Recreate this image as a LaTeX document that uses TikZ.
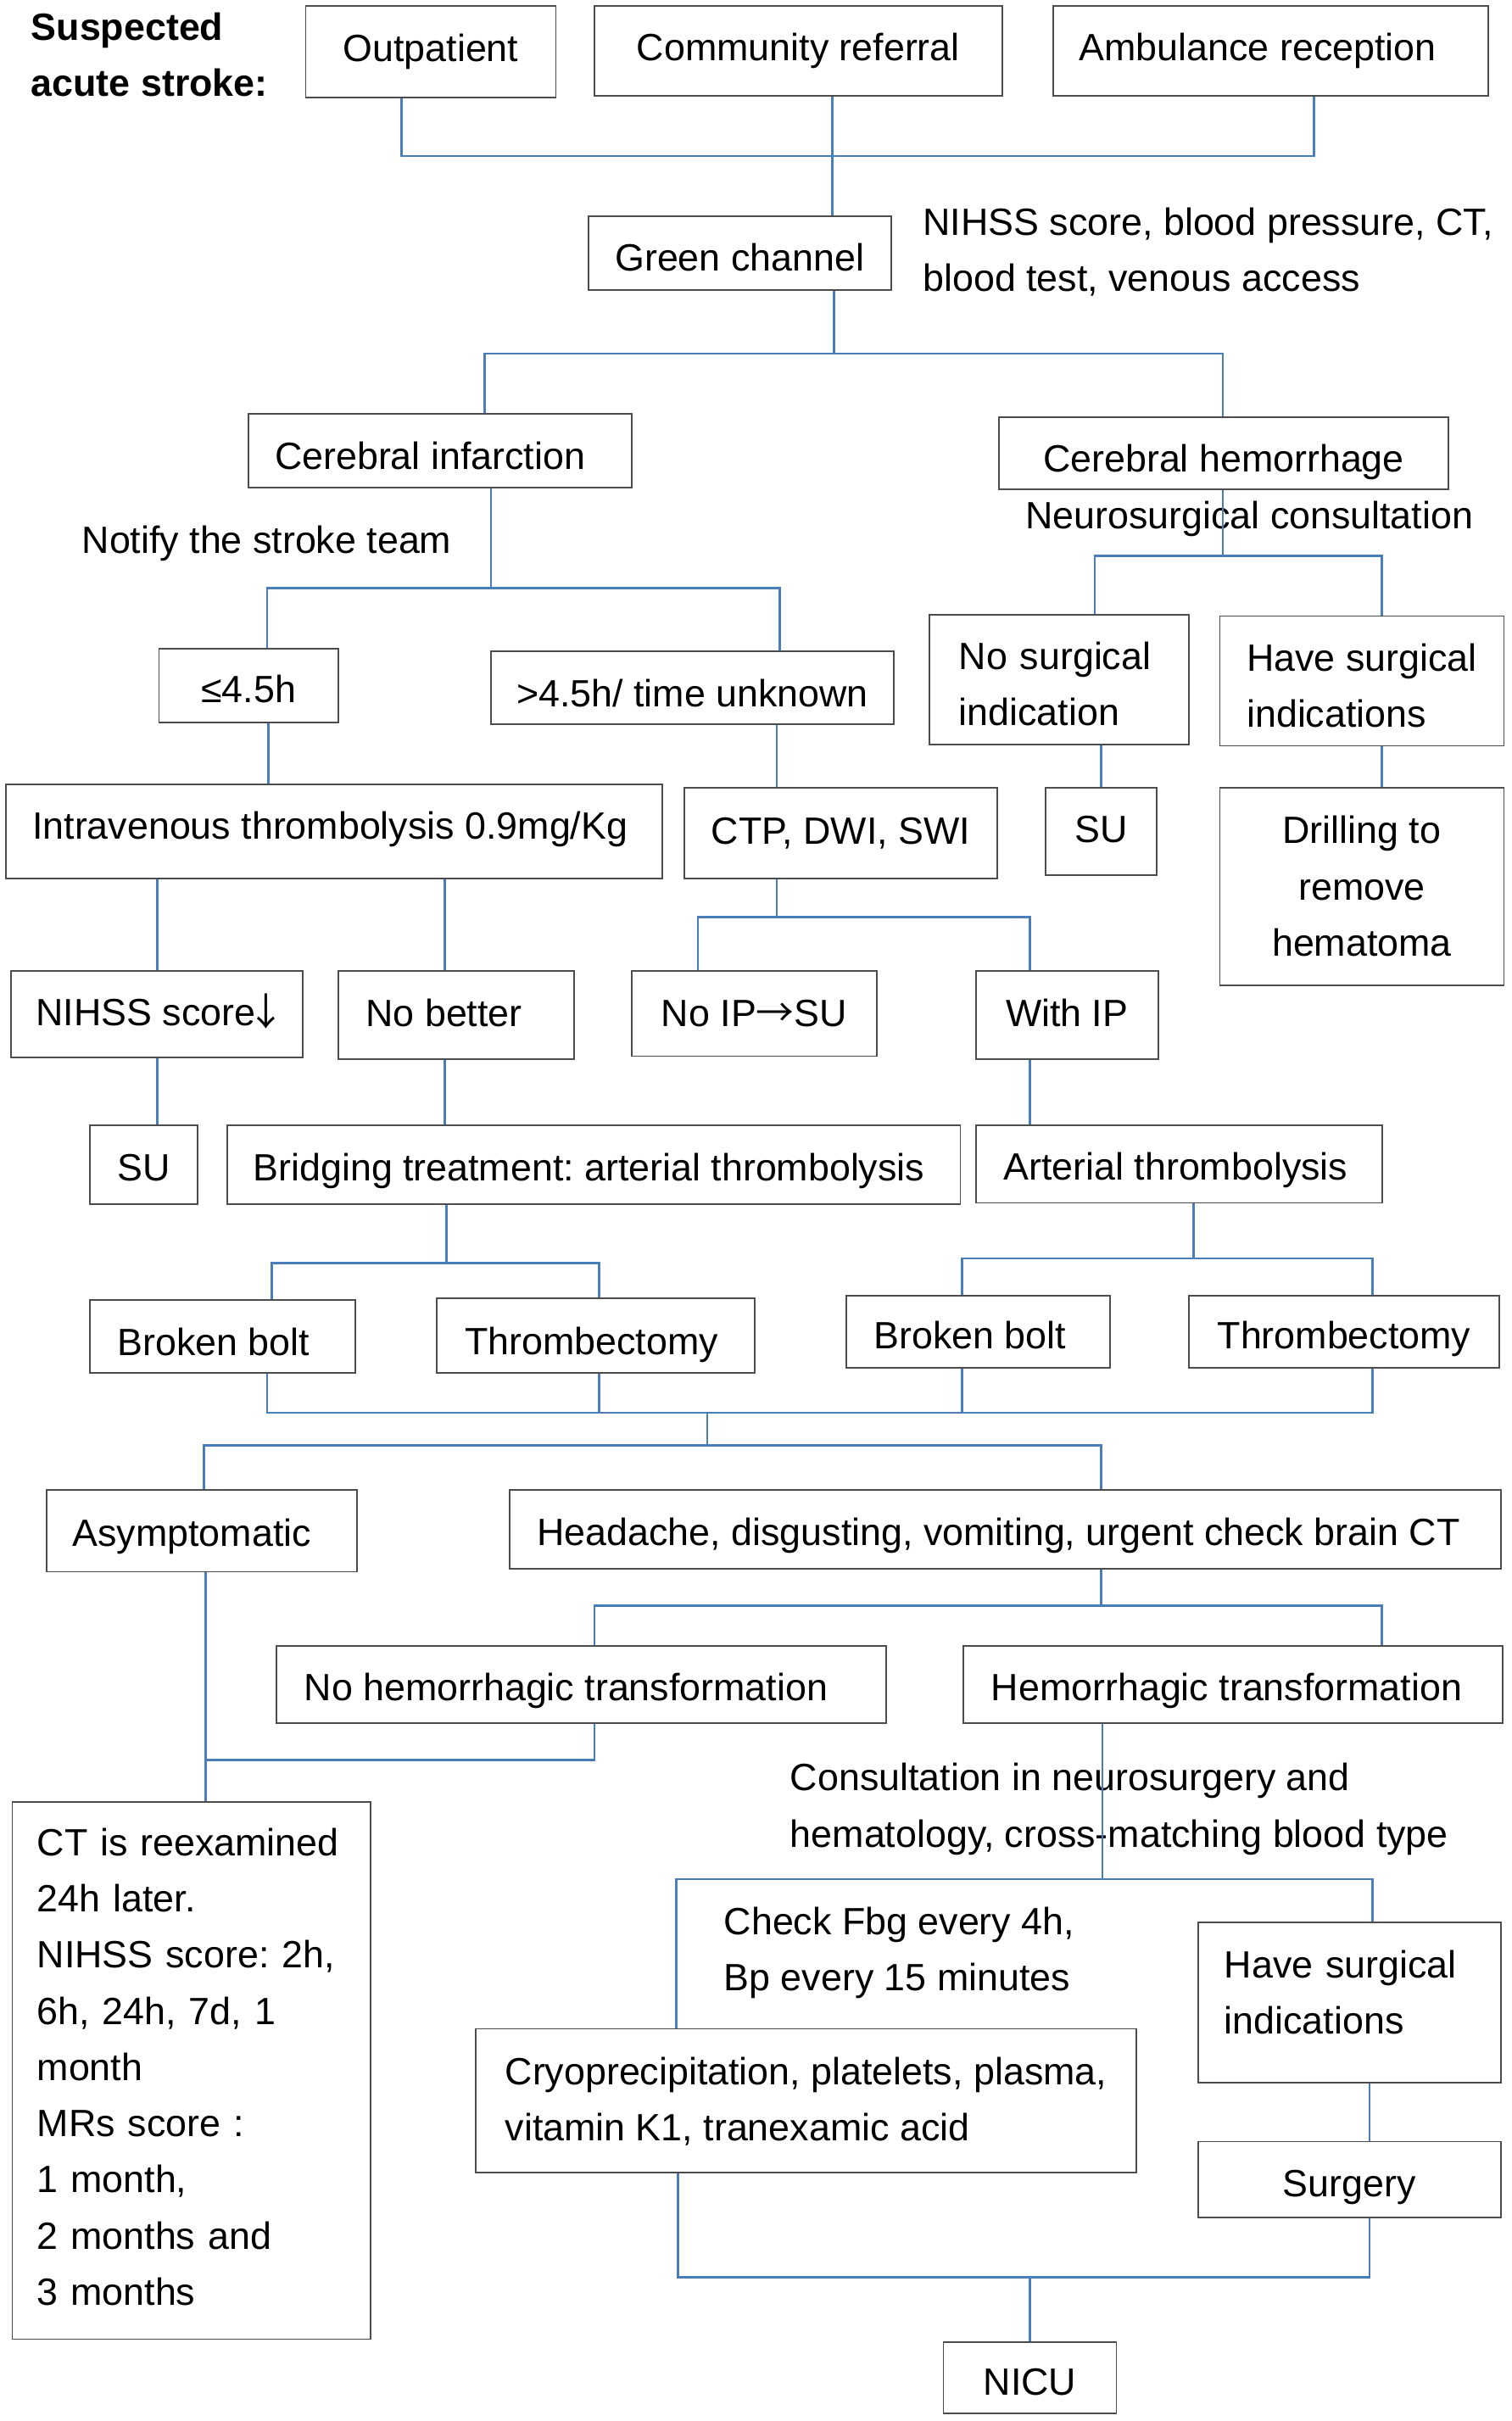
\documentclass[tikz,border=0pt]{standalone}
\usepackage{fontspec}
\setmainfont{Liberation Sans}
\newfontfamily\cjk{Noto Sans CJK SC}
\frenchspacing
\newcommand\fs{\fontsize{24.6pt}{36.4pt}\selectfont}
\newcommand\ph{\leavevmode\vphantom{Ay}}
\newcommand\lt[2]{\makebox[#1pt][l]{#2}}
\newcommand\ra{{\cjk →}}
\newcommand\da{\makebox[14pt]{\cjk ↓}}
\definecolor{lineblue}{HTML}{4A7EBB}
\begin{document}
\begin{tikzpicture}[x=1pt,y=-1pt,
  box/.style={draw=black!70, line width=1pt, inner sep=0pt, font=\fs,
    execute at begin node=\ph, execute at end node=\ph},
  sl/.style={text height=#1, text depth=5.2pt},
  lbl/.style={inner sep=0pt, font=\fs, align=left, anchor=north west,
    execute at begin node=\ph, execute at end node=\ph},
  conn/.style={draw=lineblue, line width=1.5pt, line join=miter}]
\fill[white] (0,0) rectangle (979,1568);
\useasboundingbox (0,0) rectangle (979,1568);

\newcommand\B[6][]{%
  \pgfmathsetmacro\bxw{#5-#3}\pgfmathsetmacro\bxh{#6-#4}%
  \pgfmathsetmacro\bxx{(#3+#5)/2}\pgfmathsetmacro\bxy{(#4+#6)/2}%
  \node[box,minimum width=\bxw pt,minimum height=\bxh pt,#1] (#2) at (\bxx,\bxy)}

% free labels
\node[lbl,font=\fs\bfseries] (title) at (20,8) {Suspected\\acute stroke:};
\node[lbl] (lnihss) at (597.6,134.3) {NIHSS score, blood pressure, CT,\\blood test, venous access};
\node[lbl] (lnotify) at (52.9,340.6) {Notify the stroke team};
\node[lbl] (lneuro) at (664,324.6) {Neurosurgical consultation};
\node[lbl] (lcons) at (511.6,1141.8) {Consultation in neurosurgery and\\hematology, cross-matching blood type};
\node[lbl] (lcheck) at (468.7,1234.8) {Check Fbg every 4h,\\Bp every 15 minutes};

% boxes
\B{outp}{198}{4}{360}{63}{Outpatient};
\B{comm}{385}{4}{649}{62}{Community referral};
\B{amb}{682}{4}{964}{62}{\lt{248}{Ambulance reception}};
\B[sl=27.6pt]{green}{381}{140}{577}{188}{Green channel};
\B[sl=29.6pt]{ci}{161}{268}{409}{316}{\lt{214}{Cerebral infarction}};
\B[sl=29.6pt]{ch}{647}{270}{938}{317}{Cerebral hemorrhage};
\B[sl=27.6pt]{le}{103}{420}{219}{468}{≤4.5h};
\B[sl=29.6pt]{gt}{318}{422}{579}{469}{>4.5h/ time unknown};
\B[align=left,text width=130pt]{nosurg}{602}{398}{770}{482}{\rule{0pt}{28.6pt}No surgical\\indication};
\B[align=left]{havesurg}{790}{399}{974}{483}{\rule{0pt}{28.6pt}Have surgical\\indications};
\B[sl=15.6pt]{ivt}{4}{508}{429}{569}{\lt{391}{Intravenous thrombolysis 0.9mg/Kg}};
\B[sl=19.6pt]{ctp}{443}{510}{646}{569}{CTP, DWI, SWI};
\B[sl=19.6pt]{su1}{677}{510}{749}{567}{SU};
\B[align=center]{drill}{790}{510}{974}{638}{\rule{0pt}{22.6pt}Drilling to\\remove\\hematoma};
\B[sl=19.6pt]{nihss}{7}{629}{196}{685}{NIHSS score\da};
\B[sl=19.6pt]{nobetter}{219}{629}{372}{686}{\lt{117}{No better}};
\B[sl=21.6pt]{noip}{409}{629}{568}{684}{No IP\ra SU};
\B[sl=19.6pt]{withip}{632}{629}{750}{686}{With IP};
\B[sl=25.6pt]{su2}{58}{729}{128}{780}{SU};
\B[sl=25.6pt]{bridge}{147}{729}{622}{780}{\lt{441}{Bridging treatment: arterial thrombolysis}};
\B[sl=25.6pt]{art}{632}{729}{895}{779}{\lt{227}{Arterial thrombolysis}};
\B[sl=29.6pt]{bb1}{58}{842}{230}{889}{\lt{136}{Broken bolt}};
\B[sl=29.6pt]{th1}{283}{841}{489}{889}{\lt{170}{Thrombectomy}};
\B[sl=27.6pt]{bb2}{548}{839}{719}{886}{\lt{135}{Broken bolt}};
\B[sl=27.6pt]{th2}{770}{839}{971}{886}{Thrombectomy};
\B[sl=25.6pt]{asym}{30}{965}{231}{1018}{\lt{167}{Asymptomatic}};
\B[sl=25.6pt]{head}{330}{965}{972}{1016}{\lt{606}{Headache, disgusting, vomiting, urgent check brain CT}};
\B[sl=25.6pt]{nohem}{179}{1066}{574}{1116}{\lt{359}{No hemorrhagic transformation}};
\B[sl=25.6pt]{hem}{624}{1066}{973}{1116}{\lt{313}{Hemorrhagic transformation}};
\B[align=left,text width=200pt]{ct}{8}{1167}{240}{1515}{CT is reexamined\\24h later.\\NIHSS score: 2h,\\6h, 24h, 7d, 1\\month\\MRs score :\\1 month,\\2 months and\\3 months};
\B[align=left]{cryo}{308}{1314}{736}{1407}{\rule{0pt}{20.6pt}Cryoprecipitation, platelets, plasma,\\vitamin K1, tranexamic acid};
\B[align=left,text width=162pt]{hs2}{776}{1245}{972}{1349}{Have surgical\\indications\rule[-13.2pt]{0pt}{13.2pt}};
\B[sl=27.6pt]{surg}{776}{1387}{972}{1436}{Surgery};
\B[sl=27.6pt]{nicu}{611}{1517}{723}{1563}{NICU};

% junction coordinates
\coordinate (a1) at (260,101); \coordinate (a2) at (539,101); \coordinate (a3) at (851,101);
\coordinate (b0) at (540,229); \coordinate (b1) at (314,229); \coordinate (b2) at (792,229);
\coordinate (c0) at (318,381); \coordinate (c1) at (173,381); \coordinate (c2) at (505,381);
\coordinate (d0) at (792,360); \coordinate (d1) at (709,360); \coordinate (d2) at (895,360);
\coordinate (v1) at (174,0); \coordinate (v2) at (503,0); \coordinate (v3) at (713,0);
\coordinate (v4) at (895,0); \coordinate (v5) at (102,0); \coordinate (v6) at (288,0);
\coordinate (v7) at (667,0); \coordinate (v9) at (887,0);
\coordinate (e0) at (503,594); \coordinate (e1) at (452,594); \coordinate (e2) at (667,594);
\coordinate (f0) at (289,818); \coordinate (f1) at (176,818); \coordinate (f2) at (388,818);
\coordinate (g0) at (773,815); \coordinate (g1) at (623,815); \coordinate (g2) at (889,815);
\coordinate (h0) at (458,915); \coordinate (h1) at (173,915); \coordinate (h2) at (388,915);
\coordinate (h3) at (623,915); \coordinate (h4) at (889,915);
\coordinate (i0) at (458,936); \coordinate (i1) at (132,936); \coordinate (i2) at (713,936);
\coordinate (k0) at (713,1040); \coordinate (k1) at (385,1040); \coordinate (k2) at (895,1040);
\coordinate (l1) at (133,1140); \coordinate (l2) at (385,1140);
\coordinate (m0) at (714,1217); \coordinate (m1) at (438,1217); \coordinate (m2) at (889,1217);
\coordinate (n0) at (667,1475); \coordinate (n1) at (439,1475); \coordinate (n2) at (887,1475);

% connectors
\draw[conn] (outp.south -| a1) -- (a1) -- (a3) -- (amb.south -| a3);
\draw[conn] (comm.south -| a2) -- (green.north -| a2);
\draw[conn] (green.south -| b0) -- (b0);
\draw[conn] (ci.north -| b1) -- (b1) -- (b2) -- (ch.north -| b2);
\draw[conn] (ci.south -| c0) -- (c0);
\draw[conn] (le.north -| c1) -- (c1) -- (c2) -- (gt.north -| c2);
\draw[conn] (ch.south -| d0) -- (d0);
\draw[conn] (nosurg.north -| d1) -- (d1) -- (d2) -- (havesurg.north -| d2);
\draw[conn] (le.south -| v1) -- (ivt.north -| v1);
\draw[conn] (gt.south -| v2) -- (ctp.north -| v2);
\draw[conn] (nosurg.south -| v3) -- (su1.north -| v3);
\draw[conn] (havesurg.south -| v4) -- (drill.north -| v4);
\draw[conn] (ivt.south -| v5) -- (nihss.north -| v5);
\draw[conn] (ivt.south -| v6) -- (nobetter.north -| v6);
\draw[conn] (ctp.south -| e0) -- (e0);
\draw[conn] (noip.north -| e1) -- (e1) -- (e2) -- (withip.north -| e2);
\draw[conn] (nihss.south -| v5) -- (su2.north -| v5);
\draw[conn] (nobetter.south -| v6) -- (bridge.north -| v6);
\draw[conn] (withip.south -| v7) -- (art.north -| v7);
\draw[conn] (bridge.south -| f0) -- (f0);
\draw[conn] (bb1.north -| f1) -- (f1) -- (f2) -- (th1.north -| f2);
\draw[conn] (art.south -| g0) -- (g0);
\draw[conn] (bb2.north -| g1) -- (g1) -- (g2) -- (th2.north -| g2);
\draw[conn] (bb1.south -| h1) -- (h1) -- (h4) -- (th2.south -| h4);
\draw[conn] (th1.south -| h2) -- (h2);
\draw[conn] (bb2.south -| h3) -- (h3);
\draw[conn] (h0) -- (i0);
\draw[conn] (asym.north -| i1) -- (i1) -- (i2) -- (head.north -| i2);
\draw[conn] (head.south -| k0) -- (k0);
\draw[conn] (nohem.north -| k1) -- (k1) -- (k2) -- (hem.north -| k2);
\draw[conn] (asym.south -| l1) -- (ct.north -| l1);
\draw[conn] (l1) -- (l2) -- (nohem.south -| l2);
\draw[conn] (hem.south -| m0) -- (m0);
\draw[conn] (cryo.north -| m1) -- (m1) -- (m2) -- (hs2.north -| m2);
\draw[conn] (hs2.south -| v9) -- (surg.north -| v9);
\draw[conn] (cryo.south -| n1) -- (n1) -- (n2) -- (surg.south -| n2);
\draw[conn] (n0) -- (nicu.north -| n0);
\end{tikzpicture}
\end{document}
